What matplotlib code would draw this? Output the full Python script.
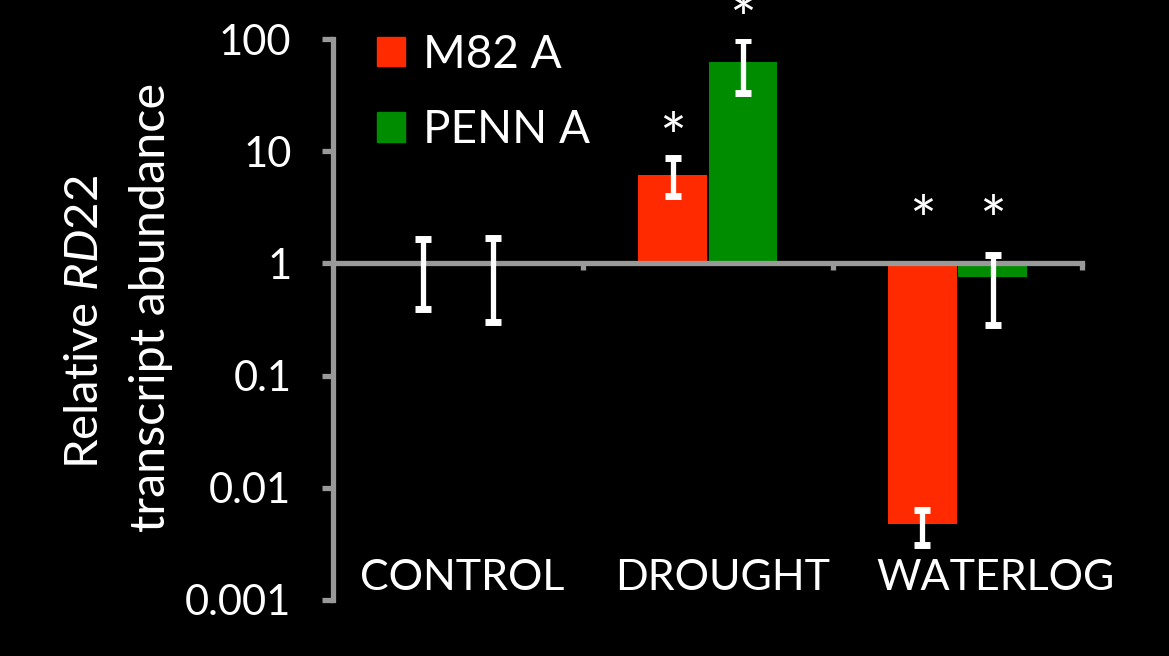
import numpy as np
import matplotlib
matplotlib.use("Agg")
from matplotlib import pyplot as plt
from matplotlib.patches import Patch

categories = ["CONTROL", "DROUGHT", "WATERLOG"]
series = ["M82 A", "PENN A"]

m82 = [1.0, 6.1, 0.0048]
m82_hi = [1.65, 8.8, 0.0063]
m82_lo = [0.39, 4.0, 0.0031]
m82_sig = [False, True, True]

penn = [1.0, 63.0, 0.75]
penn_hi = [1.7, 99.0, 1.2]
penn_lo = [0.30, 33.0, 0.28]
penn_sig = [False, True, True]

yticks = [0.001, 0.01, 0.1, 1, 10, 100]

RED = "#ff2a00"
GREEN = "#008c00"
GREY = "#999999"
FONT = "Lato"

plt.rcParams["font.family"] = FONT
plt.rcParams["mathtext.fontset"] = "custom"
plt.rcParams["mathtext.rm"] = FONT
plt.rcParams["mathtext.it"] = FONT + ":italic"

fig = plt.figure(figsize=(11.69, 6.56), dpi=100, facecolor="black")
ax = fig.add_axes([0.285, 0.0854, 0.641, 0.855], facecolor="black")
ax.set_yscale("log")
ax.set_ylim(0.001, 100)
ax.set_xlim(0, 3)

x = np.arange(len(categories)) + 0.5
w = 0.275


def draw_series(xs, vals, hi, lo, sig, color):
    vals = np.array(vals)
    ax.bar(xs, vals - 1, bottom=1, width=w, color=color, zorder=2)
    err = [vals - np.array(lo), np.array(hi) - vals]
    ax.errorbar(xs, vals, yerr=err, fmt="none", ecolor="white",
                elinewidth=3.8, capsize=6, capthick=5, zorder=4)
    # significance stars sit just above the error bar (or the baseline)
    for xi, h, s in zip(xs, hi, sig):
        if s:
            ax.text(xi, max(h, 1.6) * 1.38, "*", color="white", fontsize=46,
                    ha="center", va="center", zorder=5, clip_on=False)


draw_series(x - 0.141, m82, m82_hi, m82_lo, m82_sig, RED)
draw_series(x + 0.141, penn, penn_hi, penn_lo, penn_sig, GREEN)

# axes styling
for s in ["top", "right"]:
    ax.spines[s].set_visible(False)
ax.spines["left"].set_color(GREY)
ax.spines["left"].set_linewidth(3.8)
ax.spines["bottom"].set_position(("data", 1))
ax.spines["bottom"].set_color(GREY)
ax.spines["bottom"].set_linewidth(3.8)
ax.spines["bottom"].set_zorder(3)

ax.set_yticks(yticks)
ax.set_yticklabels(["{:g}".format(t) for t in yticks])
ax.yaxis.set_minor_locator(matplotlib.ticker.NullLocator())
ax.tick_params(axis="y", colors=GREY, length=8, width=3.8, pad=22,
               labelsize=30, labelcolor="white")
ax.set_xticks([1, 2, 3])
ax.set_xticklabels([])
ax.tick_params(axis="x", colors=GREY, length=5, width=3.8, direction="out")

label_shift = [0.015, 0.06, 0.15]
for xi, c, dx in zip(x, categories, label_shift):
    ax.text(xi + dx, 0.04, c, transform=ax.get_xaxis_transform(),
            color="white", fontsize=31, ha="center", va="center")

fig.text(0.073, 0.509, r"Relative $\mathit{RD22}$", rotation=90, color="white",
         fontsize=34, ha="center", va="center")
fig.text(0.129, 0.532, "transcript abundance", rotation=90, color="white",
         fontsize=35, ha="center", va="center")

handles = [Patch(color=RED), Patch(color=GREEN)]
ax.legend(handles, series, loc="upper left", bbox_to_anchor=(0.004, 1.083),
          frameon=False, fontsize=33, labelcolor="white", handlelength=0.61,
          handleheight=0.61, handletextpad=0.38, labelspacing=0.73)

fig.savefig("out.png", dpi=100, facecolor="black")
